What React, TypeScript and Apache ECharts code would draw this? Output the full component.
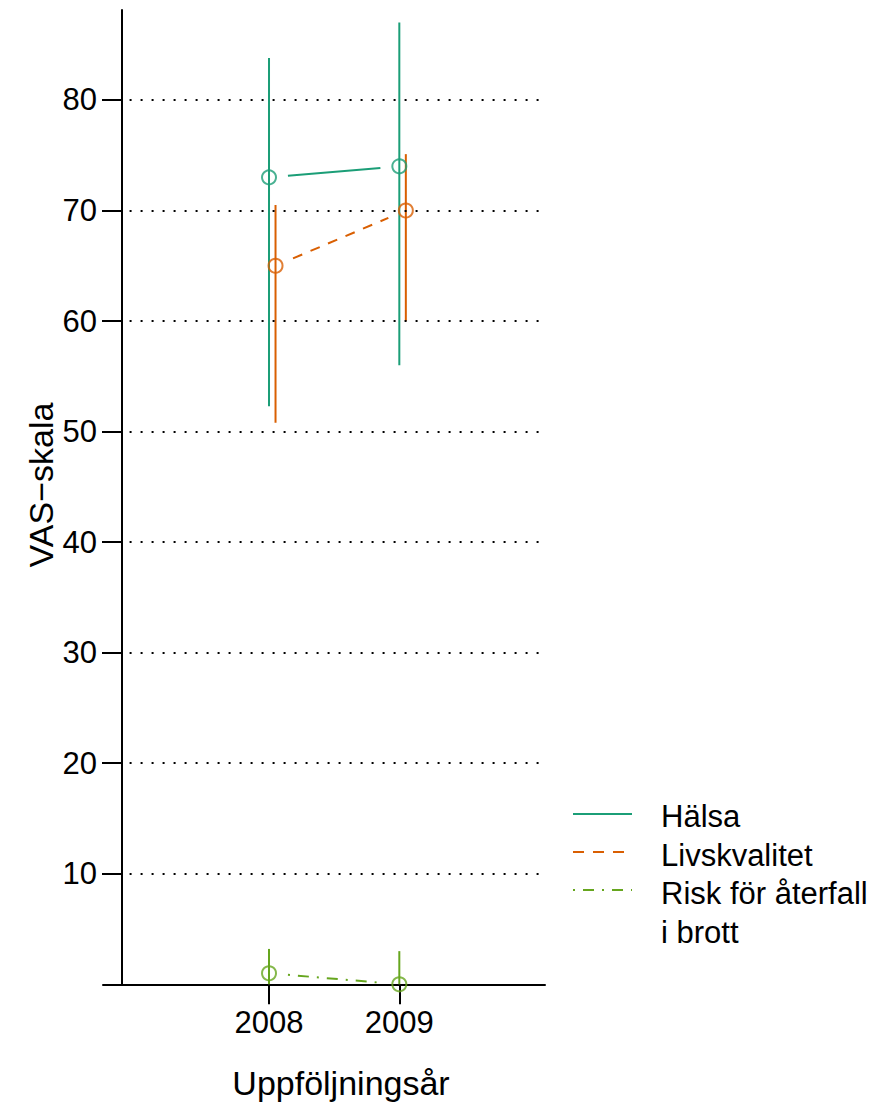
import React, { useEffect, useRef } from "react";
import * as echarts from "echarts";

// Follow-up years and per-series means with interval bounds (VAS scale)
const years = [2008, 2009];
const seriesNames = ["Hälsa", "Livskvalitet", "Risk för återfall\ni brott"];
const seriesColors = ["#1b9e77", "#d95f02", "#66a61e"];
const xShift = [0, 0.05, 0]; // horizontal dodge per series, in years

const halsaMean = [73, 74];
const halsaLow = [52.3, 56];
const halsaHigh = [83.8, 87];

const livMean = [65, 70];
const livLow = [50.8, 60];
const livHigh = [70.5, 75.1];

const riskMean = [1, 0];
const riskLow = [0, 0];
const riskHigh = [3.2, 3];

const yTicks = [10, 20, 30, 40, 50, 60, 70, 80];

const FONT = "'Liberation Sans', Arial, Helvetica, sans-serif";
const FS = 31; // tick labels and legend
const FS_TITLE = 34; // axis titles

const means = [halsaMean, livMean, riskMean];
const lows = [halsaLow, livLow, riskLow];
const highs = [halsaHigh, livHigh, riskHigh];
const dashes: (number[] | null)[] = [null, [10, 9], [2, 8, 11, 8]];
const legendDashes: (number[] | null)[] = [null, [11, 9], [2, 8, 11, 8]];

export default function App() {
  const ref = useRef<HTMLDivElement>(null);

  useEffect(() => {
    document.body.style.margin = "0";
    if (!ref.current) return;
    const chart = echarts.init(ref.current, null, { renderer: "svg" });

    const series: any[] = [];

    // dotted reference lines
    series.push({
      type: "line",
      data: [],
      silent: true,
      markLine: {
        symbol: "none",
        silent: true,
        label: { show: false },
        lineStyle: { color: "#000", width: 2, type: [2, 9] },
        data: yTicks.map((t) => [
          { coord: [2006.93, t] },
          { coord: [2010.08, t] },
        ]),
      },
    });

    means.forEach((m, si) => {
      const xs = years.map((y) => y + xShift[si]);
      const color = seriesColors[si];

      // interval bars
      series.push({
        type: "custom",
        name: seriesNames[si],
        data: xs.map((x, i) => [x, lows[si][i], highs[si][i]]),
        encode: { x: 0, y: [1, 2] },
        renderItem: (params: any, api: any) => {
          const a = api.coord([api.value(0), api.value(1)]);
          const b = api.coord([api.value(0), api.value(2)]);
          return {
            type: "line",
            shape: { x1: a[0], y1: a[1], x2: b[0], y2: b[1] },
            style: { stroke: color, lineWidth: 2 },
          };
        },
        z: 2,
      });

      // connecting segment with gaps around the points
      series.push({
        type: "custom",
        data: [[xs[0], m[0], xs[1], m[1]]],
        encode: { x: [0, 2], y: [1, 3] },
        renderItem: (params: any, api: any) => {
          const p0 = api.coord([api.value(0), api.value(1)]);
          const p1 = api.coord([api.value(2), api.value(3)]);
          const dx = p1[0] - p0[0];
          const dy = p1[1] - p0[1];
          const len = Math.sqrt(dx * dx + dy * dy);
          const gap = 19;
          const ux = dx / len;
          const uy = dy / len;
          return {
            type: "line",
            shape: {
              x1: p0[0] + ux * gap,
              y1: p0[1] + uy * gap,
              x2: p1[0] - ux * gap,
              y2: p1[1] - uy * gap,
            },
            style: {
              stroke: color,
              lineWidth: 2,
              lineDash: dashes[si] || undefined,
            },
          };
        },
        z: 2,
      });

      // open circles
      series.push({
        type: "scatter",
        data: xs.map((x, i) => [x, m[i]]),
        symbol: "circle",
        symbolSize: 14,
        itemStyle: { color: "rgba(0,0,0,0)", borderColor: color, borderWidth: 2 },
        z: 3,
      });
    });

    // legend keys and labels
    const legendY = [814, 852, 890];
    const legendTextY = [816, 855, 893];
    const LH = 39;
    const graphic: any[] = [];
    seriesNames.forEach((name, i) => {
      graphic.push({
        type: "line",
        shape: { x1: 573, y1: legendY[i], x2: 632, y2: legendY[i] },
        style: {
          stroke: seriesColors[i],
          lineWidth: 2,
          lineDash: legendDashes[i] || undefined,
        },
      });
      graphic.push({
        type: "text",
        x: 661,
        y: legendTextY[i] - LH / 2,
        style: {
          text: name,
          font: `${FS}px ${FONT}`,
          fill: "#000",
          textAlign: "left",
          textVerticalAlign: "top",
          lineHeight: LH,
        },
      });
    });

    graphic.push({
      type: "text",
      x: 41,
      y: 485,
      rotation: Math.PI / 2,
      style: {
        text: "VAS\u2212skala",
        font: `${FS_TITLE}px ${FONT}`,
        fill: "#000",
        textAlign: "center",
        textVerticalAlign: "middle",
      },
    });
    graphic.push({
      type: "text",
      x: 341,
      y: 1083,
      style: {
        text: "Uppföljningsår",
        font: `${FS_TITLE}px ${FONT}`,
        fill: "#000",
        textAlign: "center",
        textVerticalAlign: "middle",
      },
    });

    chart.setOption({
      animation: false,
      backgroundColor: "#fff",
      grid: { left: 103, right: 330, top: 10, bottom: 117.7 },
      xAxis: {
        type: "value",
        min: 2006.726,
        max: 2010.118,
        axisLine: { show: true, onZero: false, lineStyle: { color: "#000", width: 2 } },
        axisTick: {
          show: true,
          length: 20,
          customValues: years,
          lineStyle: { color: "#000", width: 2 },
        },
        axisLabel: {
          customValues: years,
          margin: 23,
          color: "#000",
          fontSize: FS,
          fontFamily: FONT,
          formatter: (v: number) => String(v),
        },
        splitLine: { show: false },
      },
      yAxis: {
        type: "value",
        min: 0,
        max: 88.14,
        offset: -19,
        axisLine: { show: true, onZero: false, lineStyle: { color: "#000", width: 2 } },
        axisTick: {
          show: true,
          length: 20,
          customValues: yTicks,
          lineStyle: { color: "#000", width: 2 },
        },
        axisLabel: {
          customValues: yTicks,
          margin: 25,
          color: "#000",
          fontSize: FS,
          fontFamily: FONT,
        },
        splitLine: { show: false },
      },
      graphic,
      series,
    });

    return () => chart.dispose();
  }, []);

  return <div ref={ref} style={{ width: 875, height: 1102 }} />;
}
